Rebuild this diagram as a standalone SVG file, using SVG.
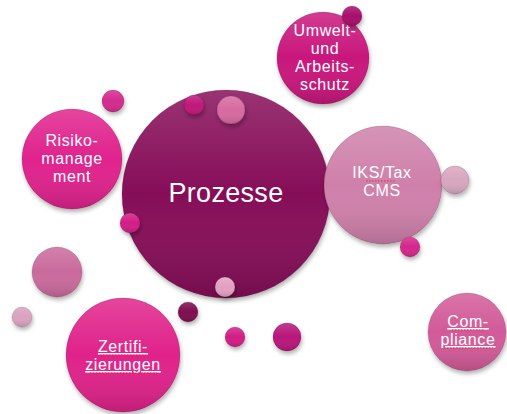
<svg xmlns="http://www.w3.org/2000/svg" width="507" height="414" viewBox="0 0 507 414">
<defs>
<linearGradient id="shade" x1="0" y1="0" x2="0" y2="1">
<stop offset="0" stop-color="#ffffff" stop-opacity="0.16"/>
<stop offset="0.5" stop-color="#ffffff" stop-opacity="0"/>
<stop offset="1" stop-color="#000000" stop-opacity="0.14"/>
</linearGradient>
<filter id="sh" x="-30%" y="-30%" width="160%" height="170%">
<feDropShadow dx="1" dy="3" stdDeviation="2" flood-color="#000" flood-opacity="0.3"/>
</filter>
</defs>
<style>
.b{filter:url(#sh)}
.o{fill:url(#shade);stroke:#000;stroke-opacity:0.12;stroke-width:1}
text{font-family:"Liberation Sans",Arial,sans-serif;fill:#fff;text-anchor:middle;font-size:16px;letter-spacing:0.6px}
.big{font-size:27px;letter-spacing:0.3px}
.u{text-decoration:underline}
.sq{stroke:#e03030;stroke-width:1;stroke-dasharray:1.5 1.5;fill:none}
</style>

<g id="main">
<circle class="b" cx="226" cy="194" r="104" fill="#860b58"/>
<circle class="o" cx="226" cy="194" r="104"/>
<text class="big" x="226" y="202">Prozesse</text>
</g>

<g id="umwelt">
<circle class="b" cx="323" cy="58" r="46" fill="#c9157b"/>
<circle class="o" cx="323" cy="58" r="46"/>
<text x="325" y="36">Umwelt-</text>
<text x="325" y="54">und</text>
<text x="325" y="72">Arbeits-</text>
<text x="325" y="90">schutz</text>
</g>

<g id="risiko">
<circle class="b" cx="72" cy="159" r="50" fill="#e0248d"/>
<circle class="o" cx="72" cy="159" r="50"/>
<text x="72" y="146">Risiko-</text>
<text x="72" y="164">manage</text>
<text x="72" y="182">ment</text>
</g>

<g id="iks">
<circle class="b" cx="383" cy="185" r="59" fill="#cf80aa"/>
<circle class="o" cx="383" cy="185" r="59"/>
<text x="382" y="178">IKS/Tax</text>
<text x="382" y="196">CMS</text>
<path class="sq" d="M366 181 H395"/>
</g>

<g id="zertifi">
<circle class="b" cx="123" cy="355" r="57" fill="#e0218a"/>
<circle class="o" cx="123" cy="355" r="57"/>
<text class="u" x="123" y="352">Zertifi-</text>
<text class="u" x="123" y="370">zierungen</text>
<path class="sq" d="M100 355 H146 M90 373 H157"/>
</g>

<g id="compliance">
<circle class="b" cx="467" cy="332" r="39" fill="#d25a98"/>
<circle class="o" cx="467" cy="332" r="39"/>
<text class="u" x="468" y="327">Com-</text>
<text class="u" x="468" y="345">pliance</text>
<path class="sq" d="M452 330 H484 M444 348 H493"/>
</g>

<g id="bubbles">
<circle class="b" cx="352" cy="16" r="10" fill="#a8106a"/>
<circle class="o" cx="352" cy="16" r="10"/>
<circle class="b" cx="113" cy="101" r="11" fill="#d42a8e"/>
<circle class="o" cx="113" cy="101" r="11"/>
<circle class="b" cx="194" cy="105" r="10" fill="#c0187a"/>
<circle class="o" cx="194" cy="105" r="10"/>
<circle class="b" cx="231" cy="110" r="14" fill="#d66aa0"/>
<circle class="o" cx="231" cy="110" r="14"/>
<circle class="b" cx="130" cy="223" r="10" fill="#d21f86"/>
<circle class="o" cx="130" cy="223" r="10"/>
<circle class="b" cx="225" cy="287" r="10" fill="#e2a0c0"/>
<circle class="o" cx="225" cy="287" r="10"/>
<circle class="b" cx="455" cy="180" r="14" fill="#d8a6bf"/>
<circle class="o" cx="455" cy="180" r="14"/>
<circle class="b" cx="410" cy="247" r="10" fill="#d4288b"/>
<circle class="o" cx="410" cy="247" r="10"/>
<circle class="b" cx="57" cy="272" r="25" fill="#c96a9c"/>
<circle class="o" cx="57" cy="272" r="25"/>
<circle class="b" cx="22" cy="317" r="10" fill="#d9a2bf"/>
<circle class="o" cx="22" cy="317" r="10"/>
<circle class="b" cx="188" cy="312" r="10" fill="#7e0a50"/>
<circle class="o" cx="188" cy="312" r="10"/>
<circle class="b" cx="235" cy="337" r="10" fill="#d31c85"/>
<circle class="o" cx="235" cy="337" r="10"/>
<circle class="b" cx="287" cy="337" r="14" fill="#b8127a"/>
<circle class="o" cx="287" cy="337" r="14"/>
</g>

<g id="connectors"/>
</svg>
